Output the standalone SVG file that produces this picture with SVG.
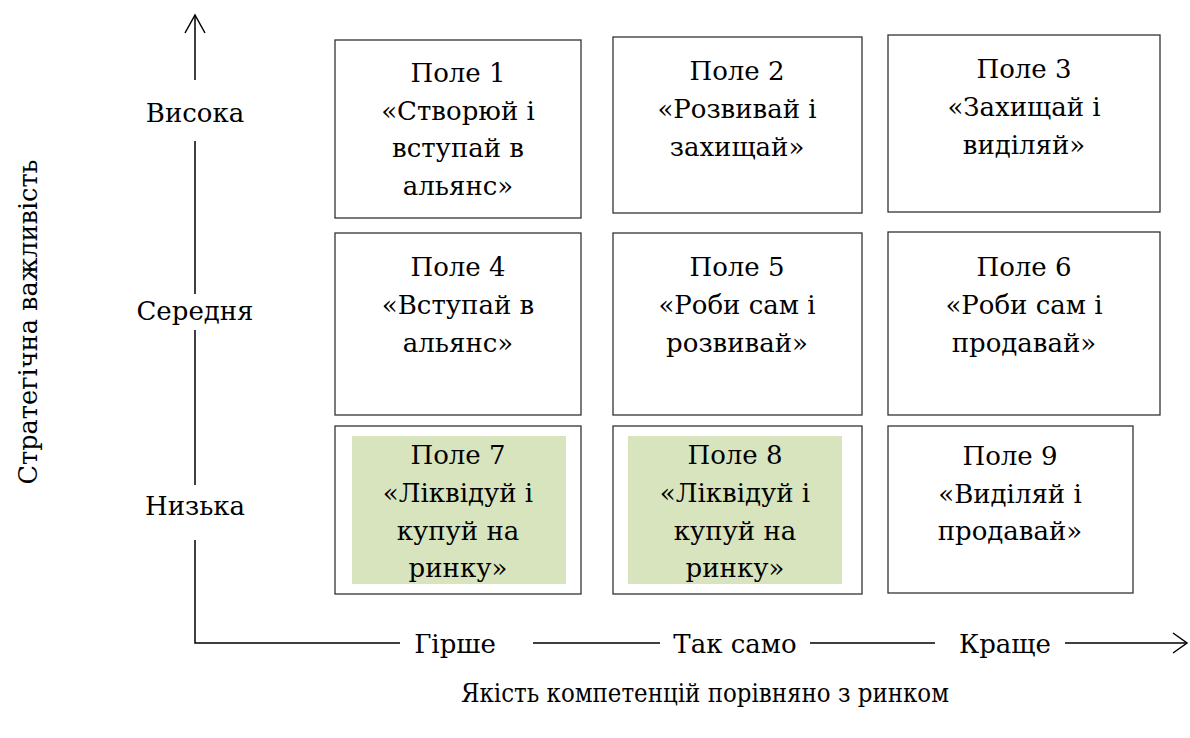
<svg xmlns="http://www.w3.org/2000/svg" width="1190" height="738" viewBox="0 0 1190 738">
<style>
text{font-family:'DejaVu Serif',serif;font-size:26px;fill:#000;text-anchor:middle}
.box{fill:#fff;stroke:#333;stroke-width:1.3}
.green{fill:#d7e4bd;stroke:none}
.ax{stroke:#000;stroke-width:1.5;fill:none}
</style>
<rect width="1190" height="738" fill="#fff"/>
<g id="connectors">
<path class="ax" d="M195,15 V80 M195,141 V294 M195,330 V485 M195,540 V643 H400 M533,643 H660 M810,643 H935 M1065,643 H1186"/>
<path class="ax" d="M185,33 L195,15 L205,33"/>
<path class="ax" d="M1173,633 L1187,643 L1173,653"/>
</g>
<g id="axis-labels">
<text x="195" y="122">Висока</text>
<text x="195" y="320">Середня</text>
<text x="195" y="515">Низька</text>
<text x="455" y="653">Гірше</text>
<text x="735" y="653">Так само</text>
<text x="1005" y="653">Краще</text>
<text x="705" y="702" textLength="488" lengthAdjust="spacingAndGlyphs">Якість компетенцій порівняно з ринком</text>
<text transform="translate(37,322) rotate(-90)" textLength="325" lengthAdjust="spacingAndGlyphs">Стратегічна важливість</text>
</g>
<g id="field1"><rect class="box" x="335" y="40" width="246" height="178"/>
<text x="458" y="82">Поле 1</text><text x="458" y="120">«Створюй і</text><text x="458" y="157">вступай в</text><text x="458" y="195">альянс»</text></g>
<g id="field2"><rect class="box" x="613" y="37" width="249" height="176"/>
<text x="737" y="80">Поле 2</text><text x="737" y="118">«Розвивай і</text><text x="737" y="156">захищай»</text></g>
<g id="field3"><rect class="box" x="888" y="35" width="272" height="177"/>
<text x="1024" y="78">Поле 3</text><text x="1024" y="116">«Захищай і</text><text x="1024" y="154">виділяй»</text></g>
<g id="field4"><rect class="box" x="335" y="233" width="246" height="182"/>
<text x="458" y="276">Поле 4</text><text x="458" y="314">«Вступай в</text><text x="458" y="352">альянс»</text></g>
<g id="field5"><rect class="box" x="613" y="233" width="249" height="182"/>
<text x="737" y="276">Поле 5</text><text x="737" y="314">«Роби сам і</text><text x="737" y="352">розвивай»</text></g>
<g id="field6"><rect class="box" x="888" y="232" width="272" height="183"/>
<text x="1024" y="276">Поле 6</text><text x="1024" y="314">«Роби сам і</text><text x="1024" y="352">продавай»</text></g>
<g id="field7"><rect class="box" x="335" y="426" width="246" height="168"/><rect class="green" x="352" y="436" width="214" height="148"/>
<text x="458" y="464">Поле 7</text><text x="458" y="502">«Ліквідуй і</text><text x="458" y="540">купуй на</text><text x="458" y="577">ринку»</text></g>
<g id="field8"><rect class="box" x="613" y="426" width="249" height="168"/><rect class="green" x="628" y="436" width="214" height="148"/>
<text x="735" y="464">Поле 8</text><text x="735" y="502">«Ліквідуй і</text><text x="735" y="540">купуй на</text><text x="735" y="577">ринку»</text></g>
<g id="field9"><rect class="box" x="888" y="426" width="245" height="167"/>
<text x="1010" y="465">Поле 9</text><text x="1010" y="503">«Виділяй і</text><text x="1010" y="540">продавай»</text></g>
</svg>
